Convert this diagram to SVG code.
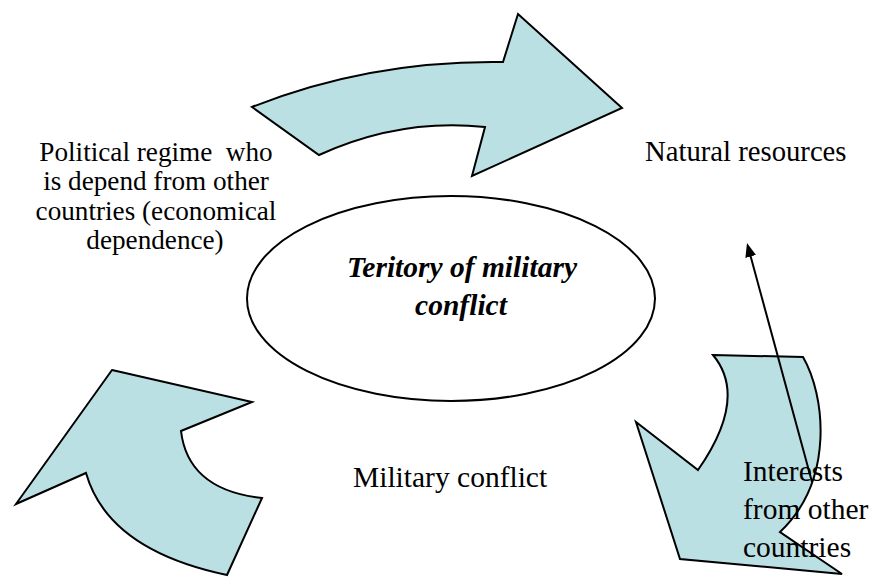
<svg xmlns="http://www.w3.org/2000/svg" width="870" height="577" viewBox="0 0 870 577">
<defs>
<style>
.arrow{fill:#bbe0e3;stroke:#000;stroke-width:2;stroke-linejoin:miter}
.t{font-family:"Liberation Serif","Times New Roman",serif;fill:#000}
.lbl{font-size:28.7px}
.pol{font-size:27.2px;text-anchor:middle}
.int{font-size:29.5px}
.ctr{font-size:29.5px;font-weight:bold;font-style:italic;text-anchor:middle}
</style>
<marker id="ah" viewBox="0 0 14 11" refX="11" refY="5.5" markerWidth="14" markerHeight="11" markerUnits="userSpaceOnUse" orient="auto">
<path d="M0,0 L14,5.5 L0,11 Z" fill="#000"/>
</marker>
</defs>
<rect width="870" height="577" fill="#fff"/>
<g id="arrow-top">
<path class="arrow" d="M252,107 Q370,60 503,62 L518,14 L622,108 L472,176 L485,127 Q400,118 319,155 Z"/>
</g>
<g id="arrow-right">
<path class="arrow" d="M713,355 L803,357 C825,395 835,480 780,532 L842,574 L680,559 L636,422 L698,470 Q748.5,397.5 713,355 Z"/>
</g>
<g id="arrow-left">
<path class="arrow" d="M112,370 L252,402 L181,431 Q188,490 262,498 L227,575 Q108,550 86,473 L16,504 Z"/>
</g>
<g id="center">
<ellipse cx="451" cy="298.5" rx="204" ry="102.5" fill="#fff" stroke="#000" stroke-width="2"/>
<text class="t ctr" x="462" y="277">Teritory of military</text>
<text class="t ctr" x="461" y="315">conflict</text>
</g>
<g id="political">
<text class="t pol" xml:space="preserve"><tspan x="156" y="160.5">Political regime  who</tspan><tspan x="156" y="190">is depend from other</tspan><tspan x="156" y="219.5">countries (economical</tspan><tspan x="155" y="248.5">dependence)</tspan></text>
</g>
<g id="natural">
<text class="t lbl" x="645" y="161">Natural resources</text>
</g>
<g id="military">
<text class="t int" x="353" y="487">Military conflict</text>
</g>
<g id="connectors">
<line x1="812" y1="482" x2="747.8" y2="245.9" stroke="#000" stroke-width="2" marker-end="url(#ah)"/>
</g>
<g id="interests">
<text class="t int"><tspan x="743" y="481">Interests</tspan><tspan x="743" y="518.5">from other</tspan><tspan x="743" y="557">countries</tspan></text>
</g>
</svg>
